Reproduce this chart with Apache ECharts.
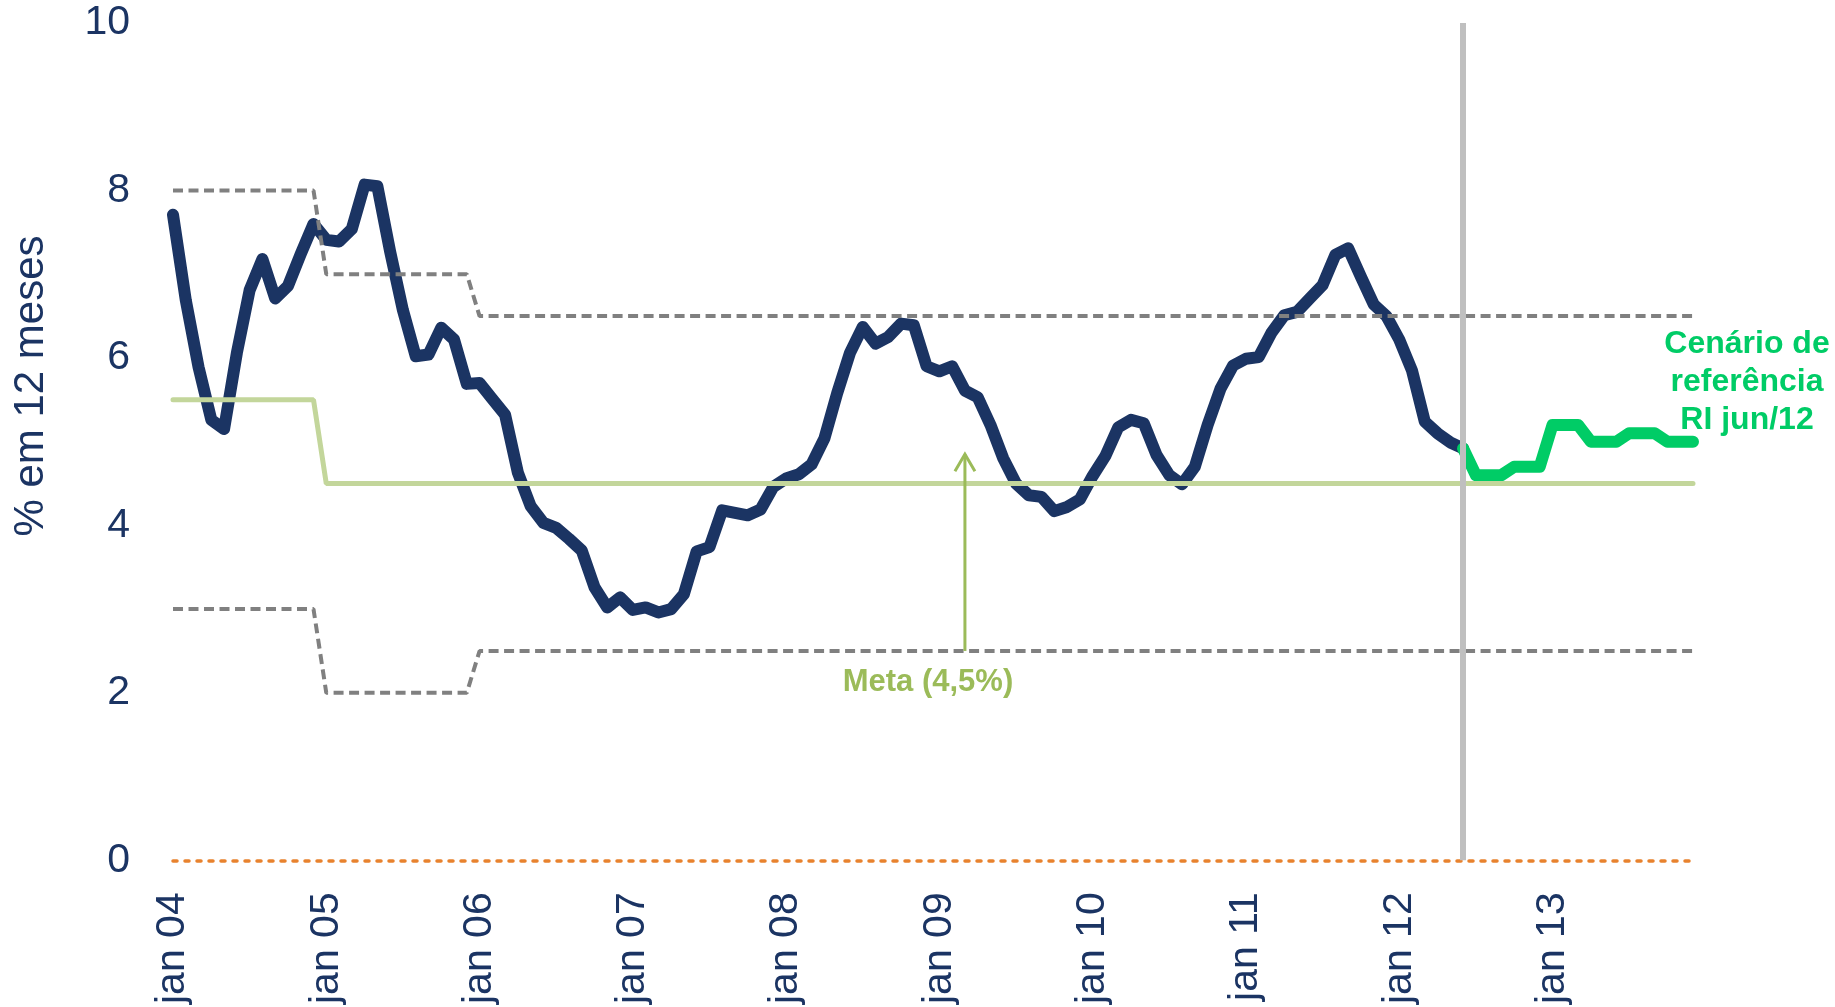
<!DOCTYPE html>
<html>
<head>
<meta charset="utf-8">
<title>IPCA - % em 12 meses</title>
<script src="https://cdn.jsdelivr.net/npm/echarts@6/dist/echarts.min.js"></script>
<style>
  html, body { margin: 0; padding: 0; background: #ffffff; }
  #chart { width: 1835px; height: 1007px; }
</style>
</head>
<body>
<div id="chart"></div>
<script>
// meses jan/04 .. dez/13
var monthNames = ['jan', 'fev', 'mar', 'abr', 'mai', 'jun', 'jul', 'ago', 'set', 'out', 'nov', 'dez'];
var years = ['04', '05', '06', '07', '08', '09', '10', '11', '12', '13'];

// IPCA acumulado em 12 meses (jan/04 .. jun/12)
var ipca = [
  7.71, 6.69, 5.89, 5.26, 5.15, 6.06, 6.81, 7.18, 6.71, 6.86, 7.24, 7.60,
  7.41, 7.39, 7.54, 8.07, 8.05, 7.27, 6.57, 6.02, 6.04, 6.36, 6.22, 5.69,
  5.70, 5.51, 5.32, 4.63, 4.23, 4.03, 3.97, 3.84, 3.70, 3.26, 3.02, 3.14,
  2.99, 3.02, 2.96, 3.00, 3.18, 3.69, 3.74, 4.18, 4.15, 4.12, 4.19, 4.46,
  4.56, 4.61, 4.73, 5.04, 5.58, 6.06, 6.37, 6.17, 6.25, 6.41, 6.39, 5.90,
  5.84, 5.90, 5.61, 5.53, 5.20, 4.80, 4.50, 4.36, 4.34, 4.17, 4.22, 4.31,
  4.59, 4.83, 5.17, 5.26, 5.22, 4.84, 4.60, 4.49, 4.70, 5.20, 5.63, 5.91,
  5.99, 6.01, 6.30, 6.51, 6.55, 6.71, 6.87, 7.23, 7.31, 6.97, 6.64, 6.50,
  6.22, 5.85, 5.24, 5.10, 4.99, 4.92
];

// cenario de referencia RI jun/12 (jun/12 .. dez/13)
var cenario = [
  4.92, 4.6, 4.6, 4.6, 4.7, 4.7, 4.7,
  5.2, 5.2, 5.2, 5.0, 5.0, 5.0,
  5.1, 5.1, 5.1, 5.0, 5.0, 5.0
];

// meta e intervalo de tolerancia, por ano (2004 .. 2013)
var metaAno = [5.5, 4.5, 4.5, 4.5, 4.5, 4.5, 4.5, 4.5, 4.5, 4.5];
var tetoAno = [8.0, 7.0, 6.5, 6.5, 6.5, 6.5, 6.5, 6.5, 6.5, 6.5];
var pisoAno = [3.0, 2.0, 2.5, 2.5, 2.5, 2.5, 2.5, 2.5, 2.5, 2.5];

var yTicks = [0, 2, 4, 6, 8, 10];

var corteRI = 'jun 12';          // linha vertical
var setaMeta = ['mar 09', 2.5, 4.85]; // seta da meta

var navy = '#1B3463';
var verde = '#00CC66';
var verdeMeta = '#C3D69B';
var verdeTexto = '#9BBB59';
var cinza = '#808080';
var laranja = '#E8822E';
var fonte = '"Liberation Sans", Arial, sans-serif';

var categorias = [];
years.forEach(function (y) {
  monthNames.forEach(function (m) { categorias.push(m + ' ' + y); });
});

function porMes(arr) {
  var out = [];
  arr.forEach(function (v) { for (var i = 0; i < 12; i++) out.push(v); });
  return out;
}

var ipcaSerie = categorias.map(function (c, i) { return i < ipca.length ? ipca[i] : null; });
var inicioCenario = categorias.indexOf(corteRI);
var cenarioSerie = categorias.map(function (c, i) {
  var k = i - inicioCenario;
  return k >= 0 && k < cenario.length ? cenario[k] : null;
});

var chart = echarts.init(document.getElementById('chart'));

var option = {
  backgroundColor: '#ffffff',
  animation: false,
  grid: { left: 173, right: 142, top: 23, bottom: 146 },
  xAxis: {
    type: 'category',
    data: categorias,
    boundaryGap: false,
    axisLine: { show: true, lineStyle: { color: laranja, width: 3.5, type: [4, 8] } },
    axisTick: { show: false },
    splitLine: { show: false },
    axisLabel: {
      interval: 11,
      rotate: 90,
      margin: 32,
      color: navy,
      fontSize: 41,
      fontFamily: fonte
    }
  },
  yAxis: {
    type: 'value',
    min: yTicks[0],
    max: yTicks[yTicks.length - 1],
    interval: 2,
    axisLine: { show: false },
    axisTick: { show: false },
    splitLine: { show: false },
    axisLabel: { color: navy, fontSize: 41, fontFamily: fonte, margin: 43 }
  },
  series: [
    {
      name: 'IPCA',
      type: 'line',
      data: ipcaSerie,
      showSymbol: false,
      lineStyle: { color: navy, width: 12, cap: 'round', join: 'round' },
      z: 2
    },
    {
      name: 'Cenário',
      type: 'line',
      data: cenarioSerie,
      showSymbol: false,
      lineStyle: { color: verde, width: 12, cap: 'round', join: 'round' },
      z: 3
    },
    {
      name: 'Meta',
      type: 'line',
      data: porMes(metaAno),
      showSymbol: false,
      lineStyle: { color: verdeMeta, width: 5, cap: 'round' },
      z: 4
    },
    {
      name: 'Teto',
      type: 'line',
      data: porMes(tetoAno),
      showSymbol: false,
      lineStyle: { color: cinza, width: 4, type: [10, 5.5] },
      z: 4
    },
    {
      name: 'Piso',
      type: 'line',
      data: porMes(pisoAno),
      showSymbol: false,
      lineStyle: { color: cinza, width: 4, type: [10, 5.5] },
      z: 4,
      markLine: {
        silent: true,
        symbol: 'none',
        label: { show: false },
        lineStyle: { color: '#BFBFBF', width: 6, type: 'solid' },
        data: [{ xAxis: corteRI }]
      }
    },
    {
      name: 'seta',
      type: 'custom',
      data: [setaMeta],
      z: 5,
      renderItem: function (params, api) {
        var base = api.coord([api.value(0), api.value(1)]);
        var tip = api.coord([api.value(0), api.value(2)]);
        return {
          type: 'group',
          children: [
            {
              type: 'line',
              shape: { x1: base[0], y1: base[1], x2: tip[0], y2: tip[1] },
              style: { stroke: verdeTexto, lineWidth: 3 }
            },
            {
              type: 'polyline',
              shape: { points: [[tip[0] - 10, tip[1] + 17], [tip[0], tip[1]], [tip[0] + 10, tip[1] + 17]] },
              style: { stroke: verdeTexto, lineWidth: 3, fill: null }
            },
            {
              type: 'text',
              x: base[0] - 37,
              y: base[1] + 31,
              style: {
                text: 'Meta (4,5%)',
                align: 'center',
                verticalAlign: 'middle',
                font: 'bold 31px ' + fonte,
                fill: verdeTexto
              }
            }
          ]
        };
      }
    }
  ],
  graphic: [
    {
      // titulo do eixo y
      type: 'text',
      x: 31,
      y: 386,
      rotation: Math.PI / 2,
      style: {
        text: '% em 12 meses',
        align: 'center',
        verticalAlign: 'middle',
        font: '42px ' + fonte,
        fill: navy
      }
    },
    {
      type: 'text',
      x: 1747,
      y: 382,
      style: {
        text: 'Cenário de\nreferência\nRI jun/12',
        align: 'center',
        verticalAlign: 'middle',
        lineHeight: 38,
        font: 'bold 32px ' + fonte,
        fill: verde
      }
    }
  ]
};

chart.setOption(option);
</script>
</body>
</html>
